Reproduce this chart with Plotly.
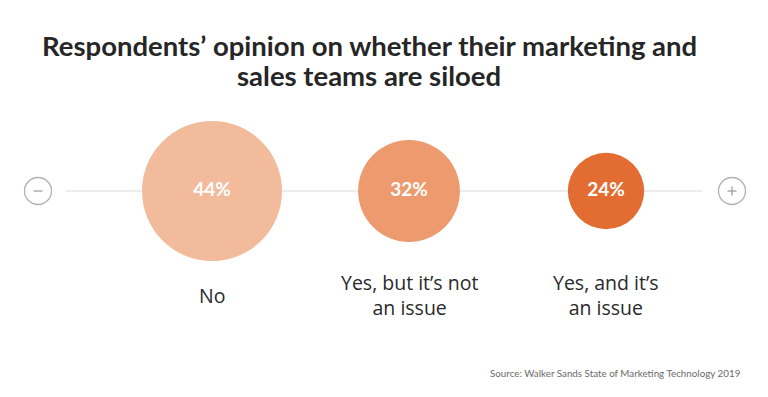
import plotly.graph_objects as go

categories = ["No", "Yes, but it’s not<br>an issue", "Yes, and it’s<br>an issue"]
values = [44, 32, 24]
value_labels = ["44%", "32%", "24%"]
colors = ["#f2bb9c", "#ec9a6e", "#e36c32"]

title_lines = ["Respondents’ opinion on whether their marketing and", "sales teams are siloed"]
source = "Source: Walker Sands State of Marketing Technology 2019"

# page body has an 8px margin; figure sized to fit inside the window
OFF = 8
W, H = 768 - 2 * OFF, 397 - 2 * OFF
FONT = "Lato"
LABEL_FONT = "Open Sans"


def px(x):
    return (x - OFF) / W


def py(y):
    return 1 - (y - OFF) / H


xs = list(range(len(categories)))
CY = 191 - OFF  # baseline pixel row inside figure

fig = go.Figure()
fig.add_trace(go.Scatter(
    x=xs, y=[0] * len(values),
    mode="markers+text",
    marker=dict(size=values, sizemode="diameter", sizeref=44 / 140,
                color=colors, line=dict(width=0), opacity=1),
    text=value_labels,
    textposition="middle center",
    textfont=dict(family=FONT, size=19, color="white", weight="bold"),
    hoverinfo="skip",
    showlegend=False,
))

# baseline
fig.add_shape(type="line", xref="paper", yref="y", x0=px(66), x1=px(702), y0=0, y1=0,
              line=dict(color="#dcdcdc", width=1.2), layer="below")

# minus / plus icons
for cx, plus in [(38, False), (732, True)]:
    fig.add_shape(type="circle", xref="paper", yref="y",
                  x0=px(cx - 13.5), x1=px(cx + 13.5), y0=-13.5, y1=13.5,
                  line=dict(color="#b0b0b0", width=1.3))
    fig.add_shape(type="line", xref="paper", yref="y",
                  x0=px(cx - 4.5), x1=px(cx + 4.5), y0=0, y1=0,
                  line=dict(color="#a0a0a0", width=1.3))
    if plus:
        fig.add_shape(type="line", xref="paper", yref="y",
                      x0=px(cx), x1=px(cx), y0=-4.5, y1=4.5,
                      line=dict(color="#a0a0a0", width=1.3))

# category labels
for i, c in enumerate(categories):
    fig.add_annotation(x=i, y=-(295 - 191), xref="x", yref="y", text=c, showarrow=False,
                       font=dict(family=LABEL_FONT, size=19.5, color="#2a2a2a"),
                       align="center", xanchor="center", yanchor="middle")

# title (two lines, tight spacing)
for line, ly in zip(title_lines, [45, 75]):
    fig.add_annotation(x=px(369), y=py(ly), xref="paper", yref="paper", text=line,
                       showarrow=False, align="center", xanchor="center", yanchor="middle",
                       font=dict(family=FONT, size=27.5, color="#262626", weight="bold"))

# source
fig.add_annotation(x=px(743), y=py(373), xref="paper", yref="paper", text=source,
                   showarrow=False, xanchor="right", yanchor="middle",
                   font=dict(family=FONT, size=9.8, color="#6a6a6a"))

unit = 197
x0_pix = 212 - OFF
fig.update_layout(
    width=W, height=H,
    margin=dict(l=0, r=0, t=0, b=0),
    paper_bgcolor="white", plot_bgcolor="white",
    xaxis=dict(range=[-x0_pix / unit, (W - x0_pix) / unit], visible=False, fixedrange=True),
    yaxis=dict(range=[-(H - CY), CY], visible=False, fixedrange=True),
)

fig.write_html("out.html", config={"displayModeBar": False})
